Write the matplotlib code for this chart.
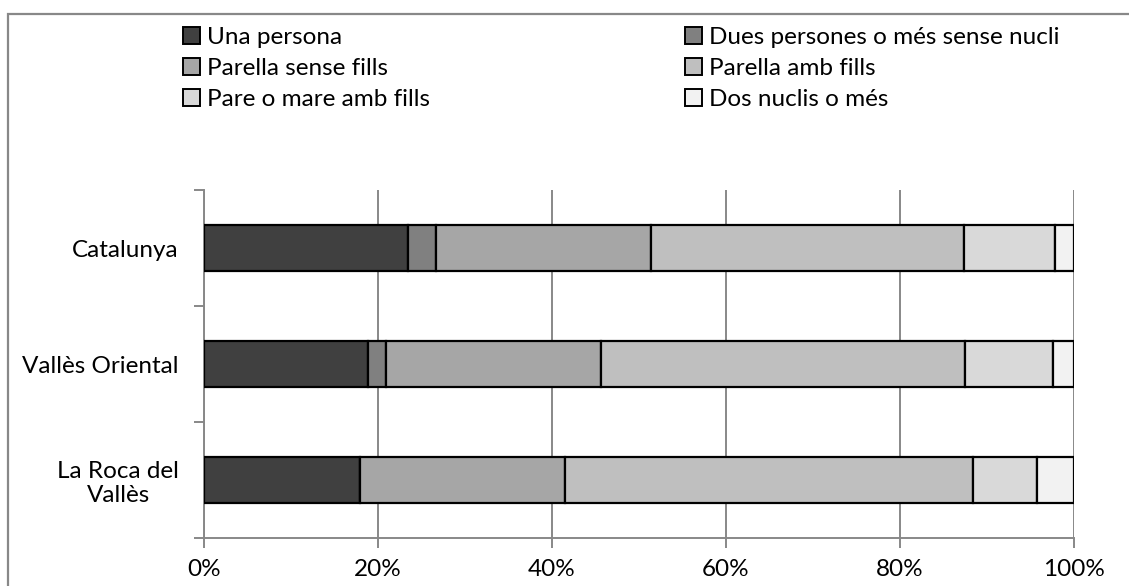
#!/usr/bin/env python3

import matplotlib
matplotlib.use("Agg")
import matplotlib.pyplot as plt
from matplotlib.patches import Rectangle

# household composition, % of households
places = ["Catalunya", "Vallès Oriental", "La Roca del\nVallès"]
series_names = [
    "Una persona",
    "Dues persones o més sense nucli",
    "Parella sense fills",
    "Parella amb fills",
    "Pare o mare amb fills",
    "Dos nuclis o més",
]
una_persona = [23.4, 18.8, 17.9]
dues_persones = [3.3, 2.1, 0.0]
parella_sense_fills = [24.7, 24.7, 23.6]
parella_amb_fills = [36.0, 41.9, 46.9]
pare_mare_fills = [10.4, 10.1, 7.4]
dos_nuclis = [2.2, 2.4, 4.2]
xtick_labels = ["0%", "20%", "40%", "60%", "80%", "100%"]

colors = ["#404040", "#808080", "#a6a6a6", "#bfbfbf", "#d9d9d9", "#f2f2f2"]
axis_grey = "#888888"

plt.rcParams["font.family"] = ["Lato", "DejaVu Sans"]
plt.rcParams["font.size"] = 17.5

fig = plt.figure(figsize=(11.29, 5.86), dpi=100)
W, H = 1129, 586
ax = fig.add_axes([204 / W, 1 - 538 / H, (1074 - 204) / W, (538 - 190) / H])

# outer chart frame
fig.patches.append(Rectangle((8 / W, -0.1), 1.2, 1 - 14 / H + 0.1,
                             transform=fig.transFigure, fill=False,
                             edgecolor=axis_grey, linewidth=1.6))

ypos = [2, 1, 0]
data = [una_persona, dues_persones, parella_sense_fills,
        parella_amb_fills, pare_mare_fills, dos_nuclis]
left = [0.0, 0.0, 0.0]
handles = []
for name, vals, col in zip(series_names, data, colors):
    bars = ax.barh(ypos, vals, left=left, height=0.4, color=col,
                   edgecolor="black", linewidth=1.6, label=name, zorder=3)
    handles.append(bars)
    left = [a + b for a, b in zip(left, vals)]

ax.set_xlim(0, 100)
ax.set_ylim(-0.5, 2.5)
ax.set_xticks(range(0, 101, 20))
ax.set_xticklabels(xtick_labels)
ax.xaxis.grid(True, color=axis_grey, linewidth=1.4, zorder=0)
ax.tick_params(axis="x", length=7, width=1.4, color=axis_grey, pad=8)

ax.set_yticks([-0.5, 0.5, 1.5, 2.5])
ax.set_yticklabels([])
ax.set_yticks(ypos, minor=True)
ax.set_yticklabels(places, minor=True, ha="right", ma="center")
ax.tick_params(axis="y", which="major", length=7, width=1.4, color=axis_grey)
ax.tick_params(axis="y", which="minor", length=0, pad=18)

for side in ["top", "right"]:
    ax.spines[side].set_visible(False)
for side in ["left", "bottom"]:
    ax.spines[side].set_color(axis_grey)
    ax.spines[side].set_linewidth(1.4)

legend_kw = dict(frameon=False, handlelength=0.7, handleheight=0.7,
                 handletextpad=0.3, labelspacing=0.42, borderaxespad=0,
                 borderpad=0, loc="upper left")
leg1 = fig.legend([handles[0], handles[2], handles[4]],
                  [series_names[0], series_names[2], series_names[4]],
                  bbox_to_anchor=(183 / W, 1 - 27 / H), **legend_kw)
leg2 = fig.legend([handles[1], handles[3], handles[5]],
                  [series_names[1], series_names[3], series_names[5]],
                  bbox_to_anchor=(685 / W, 1 - 27 / H), **legend_kw)
for leg in (leg1, leg2):
    for p in leg.get_patches():
        p.set_linewidth(1.4)

fig.savefig("out.png", dpi=100)
